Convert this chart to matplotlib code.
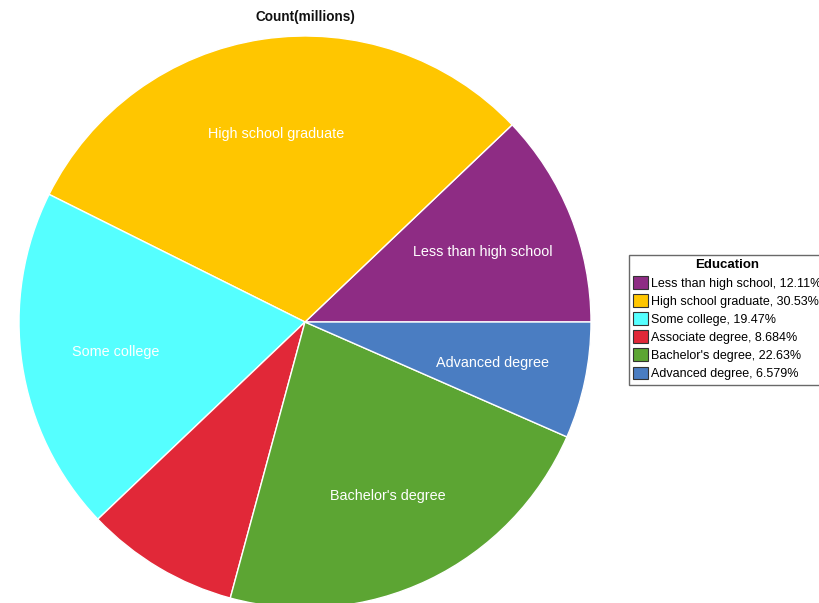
import matplotlib
matplotlib.use("Agg")
import matplotlib.pyplot as plt
from matplotlib.patches import Patch

categories = ["Less than high school", "High school graduate", "Some college",
              "Associate degree", "Bachelor's degree", "Advanced degree"]
percents = [12.11, 30.53, 19.47, 8.684, 22.63, 6.579]
pct_labels = ["12.11%", "30.53%", "19.47%", "8.684%", "22.63%", "6.579%"]
slice_labels = ["Less than high school", "High school graduate", "Some college",
                "", "Bachelor's degree", "Advanced degree"]
colors = ["#8E2C84", "#FFC600", "#55FFFF", "#E12838", "#5CA533", "#4A7DC2"]

plt.rcParams['font.family'] = ['Liberation Sans', 'DejaVu Sans']

W, H = 820, 603
fig = plt.figure(figsize=(W / 100, H / 100), dpi=100)
ax = fig.add_axes([0, 0, 1, 1])
R = 286.0
cx, cy = 305.0, 322.0
wedges, texts = ax.pie(percents, labels=slice_labels, colors=colors, startangle=0,
                       counterclock=True, radius=1.0, labeldistance=0.67,
                       wedgeprops=dict(edgecolor="white", linewidth=1.0),
                       textprops=dict(color="white", fontsize=10.4))
for t in texts:
    t.set_ha("center")
    t.set_va("center_baseline")
ax.set_aspect("auto")
ax.set_xlim(-cx / R, (W - cx) / R)
ax.set_ylim(-(H - cy) / R, cy / R)
ax.axis("off")

fig.text(305 / W, 1 - 17 / H, "Count(millions)", ha="center", va="center",
         fontsize=9.8, fontweight="bold", color="#111111")

handles = [Patch(facecolor=c, edgecolor="#333333", linewidth=0.8) for c in colors]
leg_labels = [f"{c}, {p}" for c, p in zip(categories, pct_labels)]
leg = fig.legend(handles, leg_labels, title="Education", loc="upper left",
                 bbox_to_anchor=(629 / W, 1 - 255 / H), frameon=True, fancybox=False,
                 fontsize=9.0, title_fontproperties=dict(weight="bold", size=9.5),
                 handlelength=1.2, handleheight=1.2, handletextpad=0.2,
                 labelspacing=0.36, borderpad=0.35, borderaxespad=0)
leg.get_frame().set_edgecolor("#444444")
leg.get_frame().set_linewidth(1.0)

fig.savefig("out.png", dpi=100)
